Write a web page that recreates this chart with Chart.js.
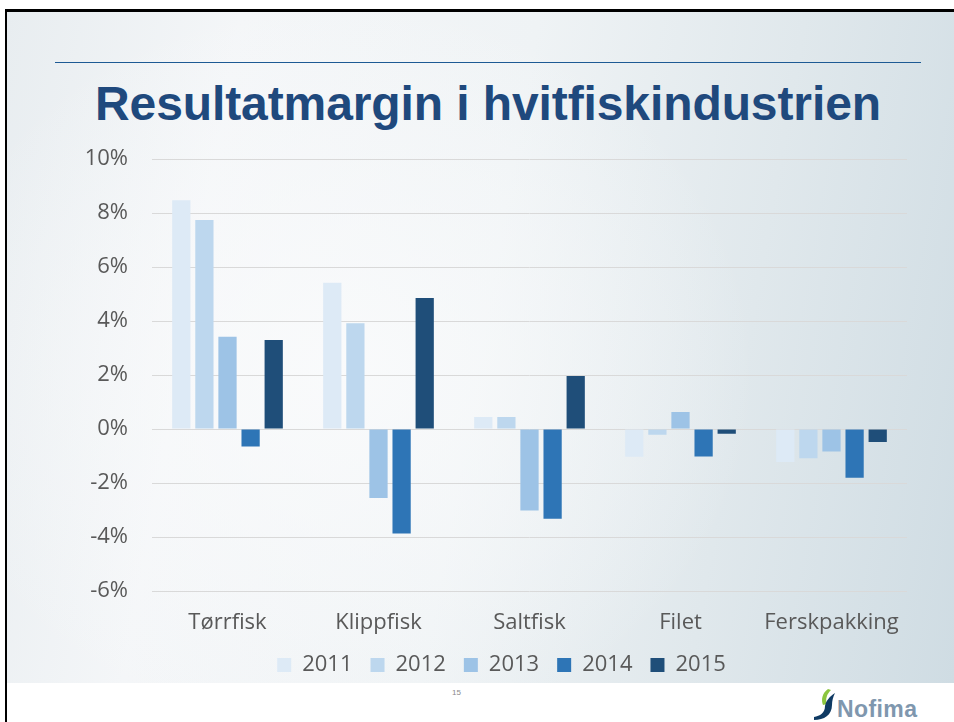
<!DOCTYPE html>
<html>
<head>
<meta charset="utf-8">
<script src="https://cdn.jsdelivr.net/npm/chart.js@4.4.1/dist/chart.umd.min.js"></script>
<style>
  html, body { margin: 0; padding: 0; background: #fff; width: 954px; height: 722px; overflow: hidden; }
  #frame {
    position: absolute; left: 5px; top: 9px; right: 0; bottom: 0;
    border-top: 3px solid #000; border-left: 2.5px solid #000;
  }
  #slide {
    position: absolute; left: 0; top: 0; right: 0; height: 671px;
    background:
      radial-gradient(ellipse 420px 380px at 330px 360px, rgba(250,251,252,0.9), rgba(250,251,252,0) 100%),
      linear-gradient(100deg, #e8edf0 0%, #f4f6f8 22%, #eff3f5 50%, #e0e8ec 75%, #cfdce3 100%);
  }
  #rule { position: absolute; left: 48px; top: 50px; width: 866px; height: 1px; background: #1d5a94; }
  #title {
    position: absolute; left: 22px; width: 932px; top: 76px; text-align: center;
    font: bold 48px "Liberation Sans", Arial, sans-serif; color: #1f497d; letter-spacing: -0.1px;
  }
  #wrap { position: absolute; left: 0; top: 122px; width: 954px; height: 564px; }
  #pg { position: absolute; left: 452px; top: 688px; font: 8px "Liberation Sans", Arial, sans-serif; color: #8a8a8a; }
  #logo { position: absolute; left: 812px; top: 686px; }
</style>
</head>
<body>
<div id="frame">
  <div id="slide">
    <div id="rule"></div>
  </div>
</div>
<div id="title">Resultatmargin i hvitfiskindustrien</div>
<div id="wrap"><canvas id="chart" width="954" height="564"></canvas></div>
<div id="pg">15</div>
<svg id="logo" width="112" height="34" viewBox="0 0 112 34">
  <path d="M16 3 C 10 7, 9 14, 11 19 L 15 18 C 13 13, 15 8, 19 4 Z" fill="#8cc63f"/>
  <path d="M13 20 C 13 27, 8 30, 2 31 L 2 34 C 12 34, 20 29, 20 19 C 20 15, 21 11, 23 7 C 17 11, 14 15, 13 20 Z" fill="#0f3a63"/>
  <text x="25" y="31" font-family="Liberation Sans, Arial, sans-serif" font-weight="bold" font-size="23" fill="#7f97ae" letter-spacing="0.4">Nofima</text>
</svg>

<script>
const categories = ['Tørrfisk', 'Klippfisk', 'Saltfisk', 'Filet', 'Ferskpakking'];
const years = ['2011', '2012', '2013', '2014', '2015'];
const colors = ['#ddeaf6', '#bdd7ee', '#9dc3e6', '#2e75b6', '#1f4e79'];

// resultatmargin i prosent, per år
const v2011 = [8.48, 5.42, 0.45, -1.03, -1.22];
const v2012 = [7.75, 3.92, 0.45, -0.21, -1.08];
const v2013 = [3.42, -2.55, -3.02, 0.63, -0.83];
const v2014 = [-0.65, -3.87, -3.32, -1.02, -1.80];
const v2015 = [3.30, 4.86, 1.97, -0.17, -0.48];
const series = [v2011, v2012, v2013, v2014, v2015];

const yTicks = [-6, -4, -2, 0, 2, 4, 6, 8, 10];

const tickFont = { family: "'Open Sans', 'Noto Sans', sans-serif", size: 22 };
const textColor = '#595959';

// legend in the original sits a bit right of the canvas centre
const legendShift = {
  id: 'legendShift',
  afterLayout(chart) {
    const l = chart.legend;
    if (!l) return;
    l.left += 48;
    l.right += 48;
  },
};

new Chart(document.getElementById('chart').getContext('2d'), {
  type: 'bar',
  data: {
    labels: categories,
    datasets: years.map((y, i) => ({
      label: y,
      data: series[i],
      backgroundColor: colors[i],
      borderWidth: 0,
      categoryPercentage: 0.765,
      barPercentage: 0.79,
    })),
  },
  options: {
    responsive: false,
    animation: false,
    layout: { padding: { left: 0, right: 47, top: 1, bottom: 0 } },
    plugins: {
      legend: {
        position: 'bottom',
        labels: {
          color: textColor,
          font: tickFont,
          boxWidth: 14,
          boxHeight: 14,
          padding: 18,
        },
      },
      tooltip: { enabled: false },
    },
    scales: {
      x: {
        grid: { display: false },
        border: { display: false },
        ticks: { color: textColor, font: tickFont, padding: 11 },
        afterFit: (s) => { s.height = 45; },
      },
      y: {
        min: -6,
        max: 10,
        afterBuildTicks: (s) => { s.ticks = yTicks.map((v) => ({ value: v })); },
        grid: { color: '#d9d9d9', drawTicks: false, lineWidth: 1 },
        border: { display: false },
        ticks: { color: textColor, font: tickFont, padding: 24, callback: (v) => `${v}%` },
        afterFit: (s) => { s.width = 152; },
      },
    },
  },
  plugins: [legendShift],
});
</script>
</body>
</html>
